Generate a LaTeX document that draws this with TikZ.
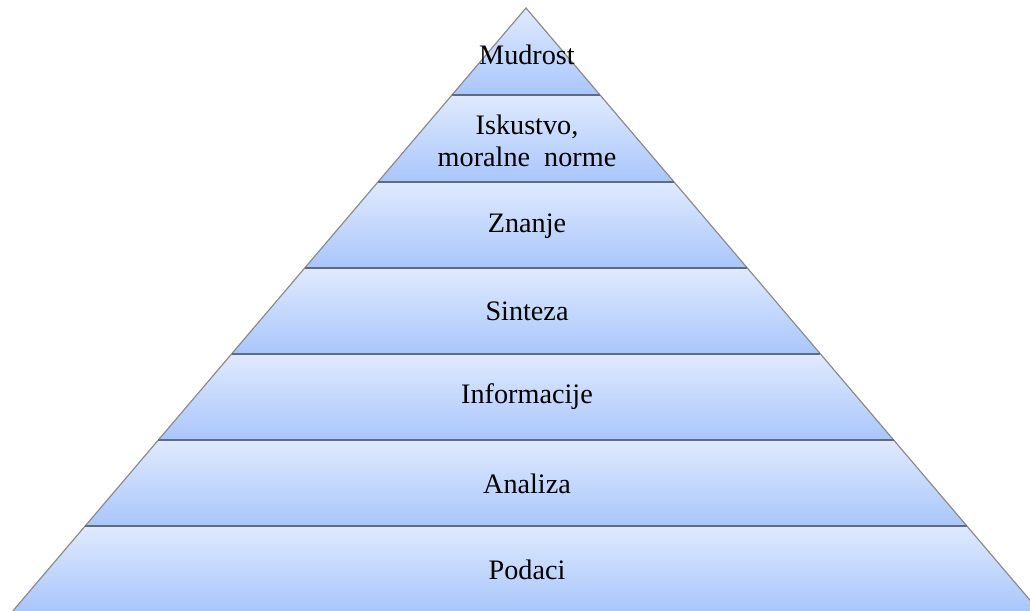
\documentclass[tikz,border=0pt]{standalone}
\usepackage{fontspec}
\setmainfont{Liberation Serif}
\definecolor{layertop}{HTML}{E0EAFE}
\definecolor{layerbot}{HTML}{A9C6FB}
\definecolor{sideline}{HTML}{8C8C8C}
\definecolor{divline}{HTML}{5E6C82}
\tikzset{
  layerfill/.style={top color=layertop, bottom color=layerbot},
  sideedge/.style={draw=sideline, line width=1.2bp},
  divider/.style={draw=divline, line width=1.8bp},
  label/.style={font=\fontsize{28.2bp}{31.5bp}\selectfont, text=black, align=center, inner sep=0pt}
}
\begin{document}
\begin{tikzpicture}[x=1bp,y=-1bp]
\useasboundingbox (0,0) rectangle (1030,611);
\def\slope{0.851}
\foreach \ya/\yb in {95/182,182/268,268/354,354/440,440/526,526/611}{
  \pgfmathsetmacro{\xla}{526-(\ya-8)*\slope}
  \pgfmathsetmacro{\xra}{526+(\ya-8)*\slope}
  \pgfmathsetmacro{\xlb}{526-(\yb-8)*\slope}
  \pgfmathsetmacro{\xrb}{526+(\yb-8)*\slope}
  \shade[layerfill] (\xla,\ya) -- (\xra,\ya) -- (\xrb,\yb) -- (\xlb,\yb) -- cycle;
}
\shade[layerfill] (526,8) -- (600,95) -- (452,95) -- cycle;
\draw[sideedge] (12.8,611) -- (526,8) -- (1039.2,611);
\foreach \y in {95,182,268,354,440,526}{
  \pgfmathsetmacro{\xl}{526-(\y-8)*\slope}
  \pgfmathsetmacro{\xr}{526+(\y-8)*\slope}
  \draw[divider] (\xl,\y) -- (\xr,\y);
}
\node[label] (mudrost) at (527,55) {Mudrost};
\node[label] (iskustvo) at (527,141) {Iskustvo,\\moralne\ \ norme};
\node[label] (znanje) at (527,226) {Znanje};
\node[label] (sinteza) at (527,311) {Sinteza};
\node[label] (informacije) at (527,397) {Informacije};
\node[label] (analiza) at (527,484) {Analiza};
\node[label] (podaci) at (527,570) {Podaci};
\end{tikzpicture}
\end{document}
